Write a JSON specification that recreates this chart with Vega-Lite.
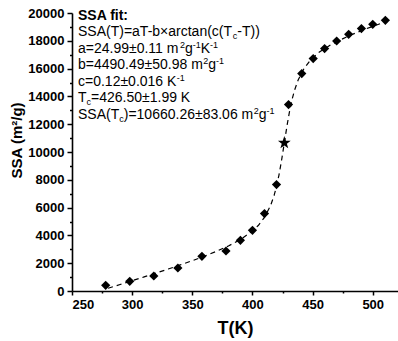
{
  "$schema": "https://vega.github.io/schema/vega-lite/v6.json",
  "width": 326,
  "height": 278,
  "autosize": {"type": "none"},
  "padding": {"left": 72, "top": 13, "right": 0, "bottom": 50},
  "background": "white",
  "config": {
    "view": {"stroke": null},
    "font": "Liberation Sans",
    "axis": {
      "grid": false,
      "domainColor": "black",
      "domainWidth": 1.6,
      "tickColor": "black",
      "tickWidth": 1.5,
      "labelColor": "black",
      "labelFont": "Liberation Sans",
      "labelFontWeight": "bold",
      "labelFontSize": 13,
      "labelOverlap": false,
      "titleColor": "black",
      "titleFont": "Liberation Sans",
      "titleFontWeight": "bold"
    }
  },
  "layer": [
    {
      "data": {"values": [
        {"T": 280, "SSA": 198},
        {"T": 290, "SSA": 467},
        {"T": 300, "SSA": 739},
        {"T": 310, "SSA": 1014},
        {"T": 320, "SSA": 1294},
        {"T": 330, "SSA": 1580},
        {"T": 340, "SSA": 1875},
        {"T": 350, "SSA": 2181},
        {"T": 360, "SSA": 2502},
        {"T": 370, "SSA": 2850},
        {"T": 380, "SSA": 3239},
        {"T": 390, "SSA": 3700},
        {"T": 400, "SSA": 4309},
        {"T": 405, "SSA": 4727},
        {"T": 410, "SSA": 5293},
        {"T": 415, "SSA": 6133},
        {"T": 418, "SSA": 6875},
        {"T": 420, "SSA": 7521},
        {"T": 422, "SSA": 8321},
        {"T": 424, "SSA": 9287},
        {"T": 426.5, "SSA": 10658},
        {"T": 429, "SSA": 12030},
        {"T": 431, "SSA": 12996},
        {"T": 433, "SSA": 13796},
        {"T": 435, "SSA": 14442},
        {"T": 438, "SSA": 15183},
        {"T": 443, "SSA": 16024},
        {"T": 448, "SSA": 16590},
        {"T": 455, "SSA": 17147},
        {"T": 465, "SSA": 17717},
        {"T": 480, "SSA": 18355},
        {"T": 495, "SSA": 18880},
        {"T": 510, "SSA": 19352}
      ]},
      "mark": {"type": "line", "color": "black", "strokeWidth": 1.2, "strokeDash": [5, 4]},
      "encoding": {
        "x": {
          "field": "T", "type": "quantitative",
          "scale": {"domain": [250, 521], "nice": false, "zero": false},
          "axis": {
            "orient": "bottom",
            "values": [250, 275, 300, 325, 350, 375, 400, 425, 450, 475, 500],
            "tickCount": 40,
            "labelExpr": "datum.value % 50 === 0 ? datum.value : ''",
            "labelOverlap": false,
            "tickSize": {"condition": {"test": "datum.value % 50 === 0", "value": 4}, "value": 2},
            "labelPadding": 3,
            "title": "T(K)",
            "titleFontSize": 18,
            "titlePadding": 8
          }
        },
        "y": {
          "field": "SSA", "type": "quantitative",
          "scale": {"domain": [0, 20000], "nice": false},
          "axis": {
            "orient": "left",
            "values": [0, 1000, 2000, 3000, 4000, 5000, 6000, 7000, 8000, 9000, 10000, 11000, 12000, 13000, 14000, 15000, 16000, 17000, 18000, 19000, 20000],
            "tickCount": 40,
            "labelExpr": "datum.value % 2000 === 0 ? datum.value : ''",
            "labelOverlap": false,
            "tickSize": {"condition": {"test": "datum.value % 2000 === 0", "value": 5}, "value": 2.5},
            "labelPadding": 3,
            "title": "SSA (m²/g)",
            "titleFontSize": 15,
            "titleY": 127,
            "titleX": -56,
            "titleBaseline": "middle"
          }
        }
      }
    },
    {
      "data": {"values": [
        {"T": 278, "SSA": 410},
        {"T": 298, "SSA": 698},
        {"T": 318, "SSA": 1079},
        {"T": 338, "SSA": 1655},
        {"T": 358, "SSA": 2496},
        {"T": 378, "SSA": 2878},
        {"T": 390, "SSA": 3647},
        {"T": 400, "SSA": 4367},
        {"T": 410, "SSA": 5568},
        {"T": 420, "SSA": 7655},
        {"T": 430, "SSA": 13410},
        {"T": 441, "SSA": 15640},
        {"T": 450.5, "SSA": 16719},
        {"T": 460, "SSA": 17439},
        {"T": 470, "SSA": 17986},
        {"T": 480, "SSA": 18468},
        {"T": 490.6, "SSA": 18878},
        {"T": 500, "SSA": 19187},
        {"T": 510.5, "SSA": 19475}
      ]},
      "mark": {"type": "point", "shape": "diamond", "filled": true, "color": "black", "opacity": 1, "size": 85},
      "encoding": {
        "x": {"field": "T", "type": "quantitative"},
        "y": {"field": "SSA", "type": "quantitative"}
      }
    },
    {
      "data": {"values": [{"T": 426.5, "SSA": 10660.26}]},
      "mark": {"type": "point", "shape": "M0,-1L0.235,-0.324L0.951,-0.309L0.38,0.124L0.588,0.809L0,0.4L-0.588,0.809L-0.38,0.124L-0.951,-0.309L-0.235,-0.324Z", "filled": true, "color": "black", "opacity": 1, "size": 180},
      "encoding": {
        "x": {"field": "T", "type": "quantitative"},
        "y": {"field": "SSA", "type": "quantitative"}
      }
    },
    {
      "data": {"values": [{"T": 254.99, "SSA": 19532, "t": "SSA fit:"}]},
      "mark": {"type": "text", "align": "left", "baseline": "alphabetic", "fontSize": 14, "fontWeight": "bold", "color": "black", "font": "Liberation Sans"},
      "encoding": {
        "x": {"field": "T", "type": "quantitative"},
        "y": {"field": "SSA", "type": "quantitative"},
        "text": {"field": "t", "type": "nominal"}
      }
    },
    {
      "data": {"values": [
        {"T": 254.99, "SSA": 18345, "t": "SSA(T)=aT-b×arctan(c(T"},
        {"T": 387.41, "SSA": 18345, "t": "-T))"},
        {"T": 254.99, "SSA": 17158, "t": "a=24.99±0.11 m"},
        {"T": 343.90, "SSA": 17158, "t": "g"},
        {"T": 357.02, "SSA": 17158, "t": "K"},
        {"T": 254.99, "SSA": 15971, "t": "b=4490.49±50.98 m"},
        {"T": 363.30, "SSA": 15971, "t": "g"},
        {"T": 254.99, "SSA": 14784, "t": "c=0.12±0.016 K"},
        {"T": 254.99, "SSA": 13597, "t": "T"},
        {"T": 265.83, "SSA": 13597, "t": "=426.50±1.99 K"},
        {"T": 254.99, "SSA": 12410, "t": "SSA(T"},
        {"T": 293.00, "SSA": 12410, "t": ")=10660.26±83.06 m"},
        {"T": 405.21, "SSA": 12410, "t": "g"}
      ]},
      "mark": {"type": "text", "align": "left", "baseline": "alphabetic", "fontSize": 14, "color": "black", "font": "Liberation Sans"},
      "encoding": {
        "x": {"field": "T", "type": "quantitative"},
        "y": {"field": "SSA", "type": "quantitative"},
        "text": {"field": "t", "type": "nominal"}
      }
    },
    {
      "data": {"values": [
        {"T": 339.74, "SSA": 17158, "t": "2"},
        {"T": 350.37, "SSA": 17158, "t": "-1"},
        {"T": 364.78, "SSA": 17158, "t": "-1"},
        {"T": 359.14, "SSA": 15971, "t": "2"},
        {"T": 369.78, "SSA": 15971, "t": "-1"},
        {"T": 337.16, "SSA": 14784, "t": "-1"},
        {"T": 401.05, "SSA": 12410, "t": "2"},
        {"T": 411.68, "SSA": 12410, "t": "-1"}
      ]},
      "mark": {"type": "text", "align": "left", "baseline": "alphabetic", "fontSize": 9, "dy": -5, "color": "black", "font": "Liberation Sans"},
      "encoding": {
        "x": {"field": "T", "type": "quantitative"},
        "y": {"field": "SSA", "type": "quantitative"},
        "text": {"field": "t", "type": "nominal"}
      }
    },
    {
      "data": {"values": [
        {"T": 383.67, "SSA": 18345, "t": "c"},
        {"T": 262.09, "SSA": 13597, "t": "c"},
        {"T": 289.26, "SSA": 12410, "t": "c"}
      ]},
      "mark": {"type": "text", "align": "left", "baseline": "alphabetic", "fontSize": 9, "dy": 3, "color": "black", "font": "Liberation Sans"},
      "encoding": {
        "x": {"field": "T", "type": "quantitative"},
        "y": {"field": "SSA", "type": "quantitative"},
        "text": {"field": "t", "type": "nominal"}
      }
    }
  ]
}
